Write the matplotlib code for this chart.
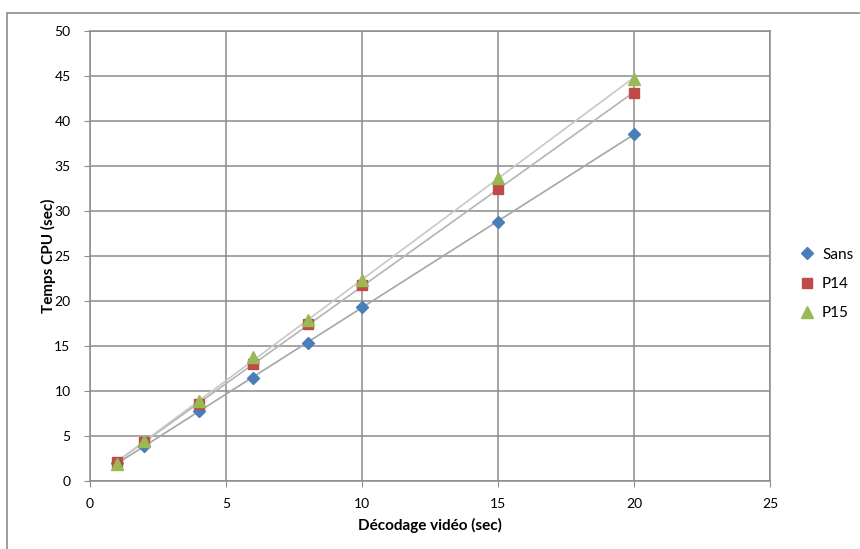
import numpy as np
import matplotlib
matplotlib.use("Agg")
import matplotlib.pyplot as plt
from matplotlib.patches import Rectangle

plt.rcParams["font.family"] = ["Lato", "DejaVu Sans"]

# données
decodage = [1, 2, 4, 6, 8, 10, 15, 20]
sans = [2.0, 3.9, 7.8, 11.5, 15.3, 19.3, 28.8, 38.6]
p14 = [2.1, 4.3, 8.6, 13.0, 17.4, 21.8, 32.4, 43.1]
p15 = [1.9, 4.4, 8.9, 13.8, 17.9, 22.3, 33.7, 44.7]

series = [
    ("Sans", sans, "#4a7ebb", "D", 6.5, "#a6a6a6"),
    ("P14", p14, "#be4b48", "s", 7.5, "#b4b4b4"),
    ("P15", p15, "#98b954", "^", 8.5, "#c8c8c8"),
]

fig = plt.figure(figsize=(8.6, 5.49), dpi=100)
W, H = 860, 549
ax = fig.add_axes([90 / W, 1 - 481 / H, (770 - 90) / W, (481 - 31) / H])

# cadre extérieur du graphique
fig.patches.append(Rectangle((7 / W, -0.1), 1.2, 1 - 13 / H + 0.1, transform=fig.transFigure,
                             fill=False, edgecolor="#8c8c8c", linewidth=1.2))

x = np.array(decodage)
for name, vals, col, mk, ms, lcol in series:
    coef = np.polyfit(x, vals, 1)
    xs = np.array([x.min(), x.max()])
    ax.plot(xs, np.polyval(coef, xs), color=lcol, linewidth=1.2, zorder=2)
for name, vals, col, mk, ms, lcol in series:
    ax.plot(decodage, vals, linestyle="none", marker=mk, markersize=ms,
            color=col, markeredgecolor=col, label=name, zorder=3)

ax.set_xlim(0, 25)
ax.set_ylim(0, 50)
ax.set_xticks(range(0, 26, 5))
ax.set_yticks(range(0, 51, 5))
ax.grid(True, color="#8c8c8c", linewidth=1.1)
ax.set_axisbelow(True)
for s in ax.spines.values():
    s.set_color("#8c8c8c")
    s.set_linewidth(1.1)
ax.tick_params(axis="both", labelsize=10, length=4, color="#8c8c8c", colors="#000000")
ax.tick_params(axis="x", pad=8)
ax.tick_params(axis="y", pad=10)

ax.set_xlabel("Décodage vidéo (sec)", fontsize=11, fontweight="bold", labelpad=6)
ax.set_ylabel("Temps CPU (sec)", fontsize=11, fontweight="bold", labelpad=-1)

ax.legend(loc="center left", bbox_to_anchor=(793 / W, 1 - 284 / H), bbox_transform=fig.transFigure,
          frameon=False, fontsize=11, handlelength=1.0, handletextpad=0.5, labelspacing=1.0,
          borderaxespad=0)

fig.savefig("out.png", dpi=100)
